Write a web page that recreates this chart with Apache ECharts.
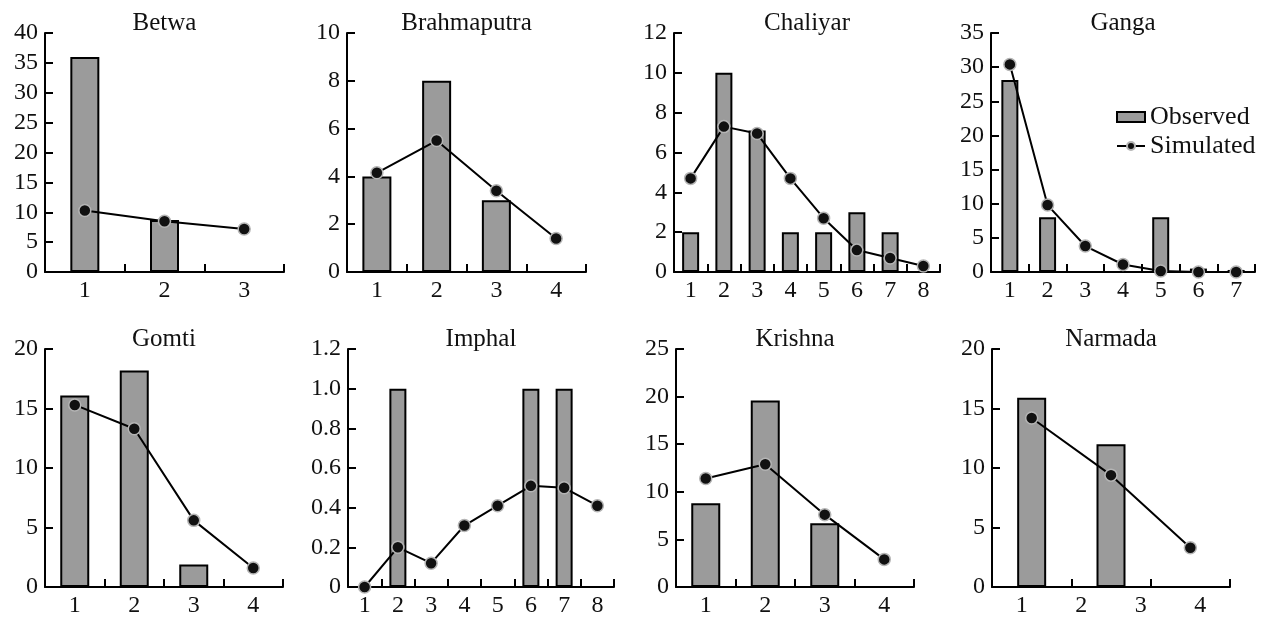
<!DOCTYPE html>
<html>
<head>
<meta charset="utf-8">
<script src="https://cdn.jsdelivr.net/npm/echarts@6/dist/echarts.min.js"></script>
<style>
  html, body { margin: 0; padding: 0; background: #fff; }
  #main { width: 1270px; height: 623px; }
</style>
</head>
<body>
<div id="main"></div>
<script>
// river panels, left to right, top to bottom
const rivers = ['Betwa', 'Brahmaputra', 'Chaliyar', 'Ganga', 'Gomti', 'Imphal', 'Krishna', 'Narmada'];

// x categories per panel
const cat3 = ['1', '2', '3'];
const cat4 = ['1', '2', '3', '4'];
const cat7 = ['1', '2', '3', '4', '5', '6', '7'];
const cat8 = ['1', '2', '3', '4', '5', '6', '7', '8'];
const narmadaLabels = ['1', '2', '3', '4'];   // printed labels, data sits on 3 slots

// observed (bars) and simulated (line) values
const betwaObs = [36, 8.7, null];
const betwaSim = [10.3, 8.5, 7.2];
const brahmaputraObs = [4, 8, 3, null];
const brahmaputraSim = [4.15, 5.5, 3.4, 1.4];
const chaliyarObs = [2, 10, 7.1, 2, 2, 3, 2, null];
const chaliyarSim = [4.7, 7.3, 6.95, 4.7, 2.7, 1.1, 0.7, 0.3];
const gangaObs = [28.1, 8, null, null, 8, 0.5, 0.3];
const gangaSim = [30.4, 9.8, 3.8, 1.1, 0.15, 0, 0];
const gomtiObs = [16.1, 18.2, 1.9, null];
const gomtiSim = [15.3, 13.3, 5.6, 1.6];
const imphalObs = [null, 1, null, null, null, 1, 1, null];
const imphalSim = [0, 0.2, 0.12, 0.31, 0.41, 0.51, 0.5, 0.41];
const krishnaObs = [8.8, 19.6, 6.7, null];
const krishnaSim = [11.4, 12.9, 7.6, 2.9];
const narmadaObs = [15.9, 12, null];
const narmadaSim = [14.2, 9.4, 3.3];

// y axis ranges
const yMax = [40, 10, 12, 35, 20, 1.2, 25, 20];
const yStep = [5, 2, 2, 5, 5, 0.2, 5, 5];

const cats = [cat3, cat4, cat8, cat7, cat4, cat8, cat4, cat3];
const obs = [betwaObs, brahmaputraObs, chaliyarObs, gangaObs, gomtiObs, imphalObs, krishnaObs, narmadaObs];
const sim = [betwaSim, brahmaputraSim, chaliyarSim, gangaSim, gomtiSim, imphalSim, krishnaSim, narmadaSim];

// panel boxes [left, top, width, height]
const boxes = [
  [45, 33, 239, 239],
  [347, 33, 239, 239],
  [674, 33, 266, 239],
  [991, 33, 264, 239],
  [45, 349, 238, 238],
  [348, 349, 266, 238],
  [676, 349, 238, 238],
  [992, 349, 238, 238]
];

const FONT = "'Liberation Serif', 'Times New Roman', serif";
const chart = echarts.init(document.getElementById('main'));

const grid = [], xAxis = [], yAxis = [], series = [], title = [];
for (let i = 0; i < rivers.length; i++) {
  const b = boxes[i];
  grid.push({ left: b[0], top: b[1], width: b[2], height: b[3], containLabel: false });
  title.push({
    text: rivers[i],
    left: b[0] + b[2] / 2,
    top: b[1] - 22,
    padding: 0,
    textAlign: 'center',
    textStyle: { fontFamily: FONT, fontSize: 25, fontWeight: 'normal', color: '#111' }
  });
  const narrow = cats[i].length > 4;
  xAxis.push({
    type: 'category',
    gridIndex: i,
    data: cats[i],
    position: 'bottom',
    boundaryGap: true,
    axisLine: { lineStyle: { color: '#000', width: 2 } },
    axisTick: { show: true, inside: true, length: 8, lineStyle: { color: '#000', width: 2 } },
    axisLabel: {
      show: i !== 7,
      margin: 7,
      fontFamily: FONT, fontSize: 24, color: '#111'
    }
  });
  yAxis.push({
    type: 'value',
    gridIndex: i,
    min: 0,
    max: yMax[i],
    interval: yStep[i],
    splitLine: { show: false },
    axisLine: { show: true, lineStyle: { color: '#000', width: 2 } },
    axisTick: { show: true, inside: true, length: 8, lineStyle: { color: '#000', width: 2 } },
    axisLabel: {
      margin: 7,
      fontFamily: FONT, fontSize: 24, color: '#111',
      formatter: function (v) {
        if (v === 0) return '0';
        return yStep[i] < 1 ? v.toFixed(1) : String(v);
      }
    }
  });
  series.push({
    name: 'Observed',
    type: 'bar',
    xAxisIndex: i,
    yAxisIndex: i,
    data: obs[i],
    barWidth: narrow ? 17 : 29,
    itemStyle: { color: '#9b9b9b', borderColor: '#000', borderWidth: 2 },
    silent: true
  });
  series.push({
    name: 'Simulated',
    type: 'line',
    xAxisIndex: i,
    yAxisIndex: i,
    data: sim[i],
    symbol: 'circle',
    symbolSize: 12,
    showAllSymbol: true,
    lineStyle: { color: '#000', width: 2 },
    itemStyle: { color: '#111', borderColor: '#b5b5b5', borderWidth: 1.5 },
    z: 3,
    silent: true
  });
}

// Narmada's printed labels sit on 4 evenly spaced slots
xAxis.push({
  type: 'category',
  gridIndex: 7,
  data: narmadaLabels,
  position: 'bottom',
  axisLine: { show: false },
  axisTick: { show: false },
  axisLabel: { margin: 7, fontFamily: FONT, fontSize: 24, color: '#111' }
});

const option = {
  backgroundColor: '#fff',
  animation: false,
  title: title,
  grid: grid,
  xAxis: xAxis,
  yAxis: yAxis,
  legend: {
    orient: 'vertical',
    left: 1111,
    top: 99,
    itemWidth: 28,
    itemHeight: 10,
    itemGap: 3,
    data: [
      { name: 'Observed', icon: 'rect' },
      { name: 'Simulated' }
    ],
    textStyle: { fontFamily: FONT, fontSize: 26, color: '#111' }
  },
  series: series
};

chart.setOption(option);
</script>
</body>
</html>
